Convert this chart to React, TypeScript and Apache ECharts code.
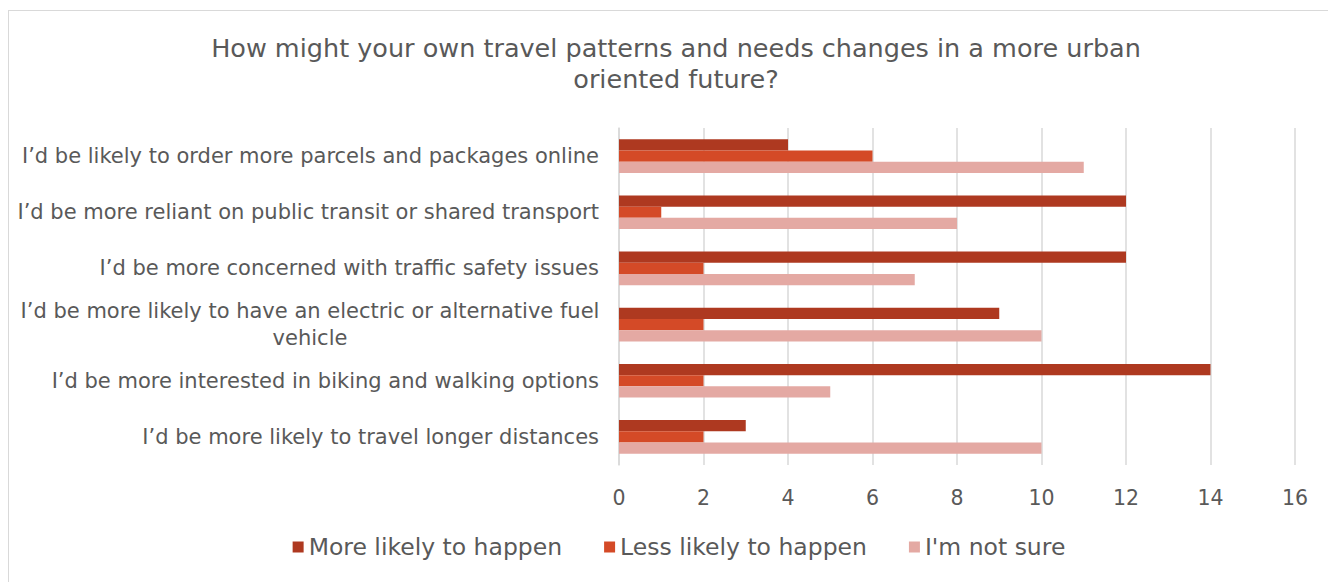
import React, { useEffect, useRef } from "react";
import * as echarts from "echarts";

const categories = [
  "I’d be likely to order more parcels and packages online",
  "I’d be more reliant on public transit or shared transport",
  "I’d be more concerned with traffic safety issues",
  "I’d be more likely to have an electric or alternative fuel\nvehicle",
  "I’d be more interested in biking and walking options",
  "I’d be more likely to travel longer distances",
];
const moreLikely = [4, 12, 12, 9, 14, 3];
const lessLikely = [6, 1, 2, 2, 2, 2];
const notSure = [11, 8, 7, 10, 5, 10];
const seriesNames = ["More likely to happen", "Less likely to happen", "I'm not sure"];
const colors = ["#AE3920", "#D44A27", "#E4A9A3"];
const xTicks = [0, 16, 2];

const FONT = "'DejaVu Sans', sans-serif";
const W = "normal";
const GRAY = "#595959";

export default function App() {
  const ref = useRef<HTMLDivElement>(null);
  useEffect(() => {
    document.documentElement.style.overflow = "hidden";
    const chart = echarts.init(ref.current!, null, { renderer: "svg" });
    chart.setOption({
      animation: false,
      textStyle: { fontFamily: FONT, color: GRAY, fontWeight: W },
      title: {
        text: "How might your own travel patterns and needs changes in a more urban\noriented future?",
        left: 662,
        top: 16,
        textAlign: "center",
        textStyle: { fontFamily: FONT, fontSize: 25.5, fontWeight: W, color: GRAY, lineHeight: 31 },
      },
      legend: {
        bottom: 27,
        left: "center",
        itemWidth: 11,
        itemHeight: 11,
        itemGap: 42,
        icon: "rect",
        textStyle: { fontFamily: FONT, fontSize: 23.5, fontWeight: W, color: GRAY },
        data: seriesNames,
      },
      grid: { left: 610, top: 117, width: 676, height: 337, containLabel: false },
      xAxis: {
        type: "value",
        min: xTicks[0],
        max: xTicks[1],
        interval: xTicks[2],
        axisLine: { show: false },
        axisTick: { show: false },
        axisLabel: { fontFamily: FONT, fontSize: 20.5, fontWeight: W, color: GRAY, margin: 22 },
        splitLine: { lineStyle: { color: "#D9D9D9", width: 1.5 } },
      },
      yAxis: {
        type: "category",
        inverse: true,
        data: categories,
        axisLine: { lineStyle: { color: "#D9D9D9", width: 1.5 } },
        axisTick: { show: false },
        axisLabel: {
          fontFamily: FONT,
          fontSize: 21,
          fontWeight: W,
          color: GRAY,
          margin: 20,
          formatter: (v: string) => {
            if (v.indexOf("\n") >= 0) {
              return v.split("\n").map((s) => "{c|" + s + "}").join("\n");
            }
            return v;
          },
          rich: {
            c: { fontFamily: FONT, fontSize: 21, fontWeight: W, color: GRAY, width: 578, align: "center", lineHeight: 27 },
          },
        },
      },
      series: [moreLikely, lessLikely, notSure].map((d, i) => ({
        name: seriesNames[i],
        type: "bar",
        data: d,
        barGap: "0%",
        barCategoryGap: "40%",
        itemStyle: { color: colors[i] },
      })),
    });
    return () => chart.dispose();
  }, []);
  return (
    <div style={{ paddingTop: 2 }}>
      <div ref={ref} style={{ width: 1340, height: 580, border: "1px solid #D9D9D9" }} />
    </div>
  );
}
